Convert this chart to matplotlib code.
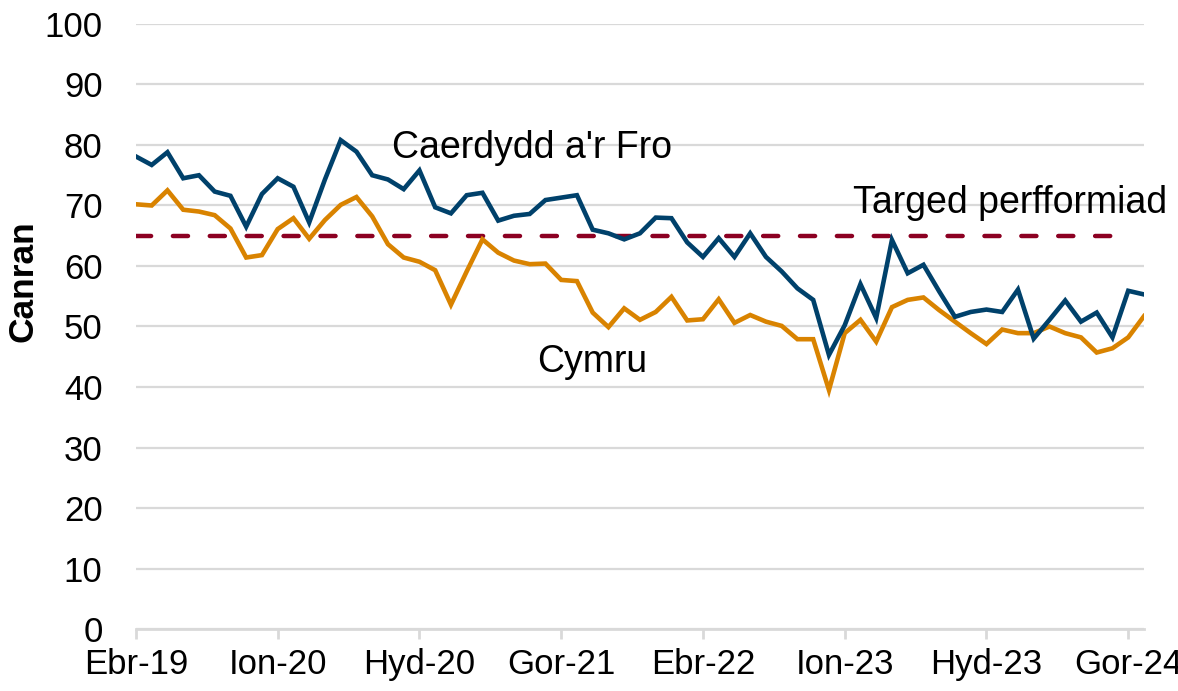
import numpy as np
import matplotlib.pyplot as plt

plt.rcParams['font.family'] = ['Liberation Sans', 'DejaVu Sans']

# monthly, Ebr-19 .. Awst-24
caerdydd = [78.1, 76.7, 78.8, 74.5, 75.0, 72.3, 71.6, 66.5, 71.9, 74.5,
            73.1, 67.2, 74.3, 80.8, 78.9, 75.0, 74.3, 72.7, 75.8, 69.7,
            68.7, 71.7, 72.1, 67.5, 68.3, 68.6, 70.9, 71.3, 71.7, 66.0,
            65.4, 64.4, 65.4, 68.0, 67.9, 63.9, 61.5, 64.6, 61.5, 65.4,
            61.5, 59.1, 56.3, 54.4, 45.3, 50.2, 57.0, 51.4, 64.3, 58.8,
            60.2, 55.8, 51.6, 52.4, 52.8, 52.4, 56.1, 48.0, 51.1, 54.3,
            50.8, 52.3, 48.2, 55.9, 55.3]
cymru = [70.2, 70.0, 72.5, 69.3, 69.0, 68.4, 66.2, 61.4, 61.8, 66.1,
         67.9, 64.5, 67.6, 70.1, 71.4, 68.2, 63.6, 61.4, 60.7, 59.3,
         53.6, 59.1, 64.4, 62.2, 60.9, 60.3, 60.4, 57.7, 57.5, 52.3,
         49.9, 53.0, 51.1, 52.4, 54.9, 51.0, 51.2, 54.5, 50.6, 51.9,
         50.8, 50.1, 47.9, 47.9, 39.5, 48.9, 51.1, 47.5, 53.2, 54.4,
         54.8, 52.7, 50.8, 48.9, 47.1, 49.5, 48.9, 48.9, 50.0, 48.9,
         48.2, 45.7, 46.4, 48.2, 51.7]
target = 65
tick_labels = ["Ebr-19", "Ion-20", "Hyd-20", "Gor-21", "Ebr-22", "Ion-23", "Hyd-23", "Gor-24"]

months = np.arange(len(caerdydd))

fig = plt.figure(figsize=(11.78, 6.91), dpi=100)
ax = fig.add_axes([0.1154, 0.0897, 0.8557, 0.8756])

grey = "#d9d9d9"
ax.set_axisbelow(True)
ax.yaxis.grid(True, color=grey, linewidth=1.6)

ax.plot(months[:-1], [target] * (len(months) - 1), color="#8c0022", linewidth=3.2,
        dashes=(3.4, 4.9), dash_capstyle="round")
ax.plot(months, cymru, color="#d98300", linewidth=3.3, solid_joinstyle="miter")
ax.plot(months, caerdydd, color="#00416b", linewidth=3.3, solid_joinstyle="miter")

ax.set_xlim(0, 64)
ax.set_ylim(0, 100)
ax.set_yticks(range(0, 101, 10))
ax.set_xticks(months[::9])
ax.set_xticklabels(tick_labels)

for s in ["top", "right", "left"]:
    ax.spines[s].set_visible(False)
ax.spines["bottom"].set_color(grey)
ax.spines["bottom"].set_linewidth(2)

ax.tick_params(axis="y", length=0, pad=24, labelsize=25)
ax.tick_params(axis="x", length=7, width=2, color=grey, pad=7, labelsize=25)

fig.text(23.5 / 1178, 1 - 281 / 691, "Canran", fontsize=25.5, fontweight="bold",
         rotation=90, ha="center", va="center")

ax.text(16.25, 79.5, "Caerdydd a'r Fro", fontsize=27, va="center")
ax.text(45.5, 70.4, "Targed perfformiad", fontsize=27, va="center")
ax.text(25.5, 44.1, "Cymru", fontsize=27, va="center")

fig.savefig("out.png", dpi=100)
